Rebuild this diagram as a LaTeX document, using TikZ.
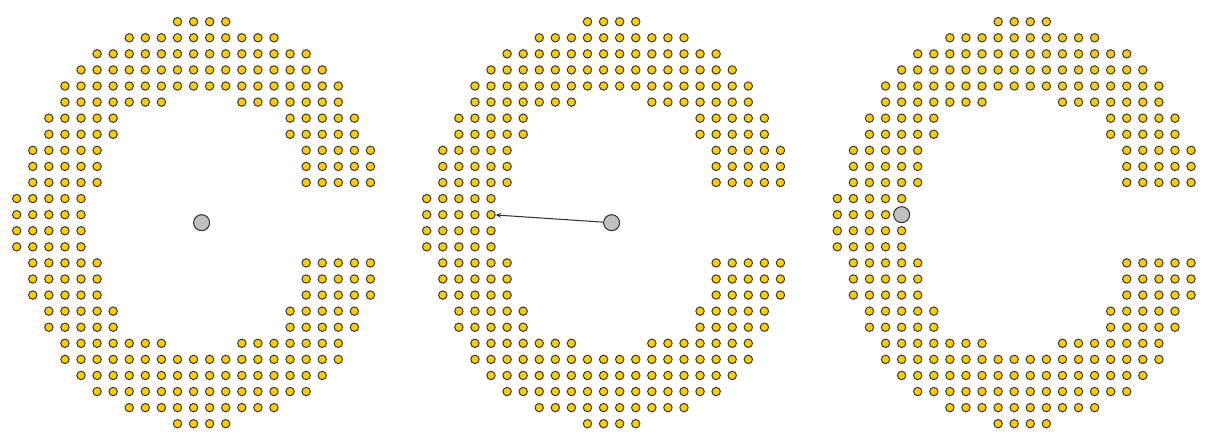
\documentclass[tikz,border=0pt]{standalone}
\usetikzlibrary{arrows.meta}
\definecolor{dotfill}{HTML}{FFCC00}
\definecolor{dotline}{HTML}{333333}
\definecolor{dronefill}{HTML}{C0C0C0}
\begin{document}
\begin{tikzpicture}[x=0.02cm,y=-0.02cm,
  dotnode/.style={circle,draw=dotline,fill=dotfill,line width=0.55pt,inner sep=0pt,minimum size=0.168cm},
  dronenode/.style={circle,draw=dotline,fill=dronefill,line width=0.6pt,inner sep=0pt,minimum size=0.32cm},
  linkline/.style={draw=dotline,line width=0.6pt,-{Stealth[length=3pt,width=2.6pt]}}]
\useasboundingbox (0,0) rectangle (1213,436);
\foreach \cx/\pre in {16.7/a,426.7/b,837.3/c}{
  \foreach \r/\lo/\hi in {0/10/13,1/7/16,2/5/18,3/4/19,4/3/20,
      5/3/9,5/14/20,6/2/6,6/17/21,7/2/6,7/17/21,
      8/1/5,8/18/22,9/1/5,9/18/22,10/1/5,10/18/22,
      11/0/4,12/0/4,13/0/4,14/0/4,
      15/1/5,15/18/22,16/1/5,16/18/22,17/1/5,17/18/22,
      18/2/6,18/17/21,19/2/6,19/17/21,20/3/9,20/14/20,
      21/3/20,22/4/19,23/5/18,24/7/16,25/10/13}{
    \foreach \c in {\lo,...,\hi}{
      \node[dotnode] (\pre-\r-\c) at ({\cx+\c*16.08},{21.7+\r*16.08}) {};
    }
  }
}
\node[dronenode] (g1) at (201.6,222.7) {};
\node[dronenode] (g2) at (611.6,222.7) {};
\node[dronenode] (g3) at (c-12-4) {};
\draw[linkline] (g2) -- (b-12-4);
\end{tikzpicture}
\end{document}
